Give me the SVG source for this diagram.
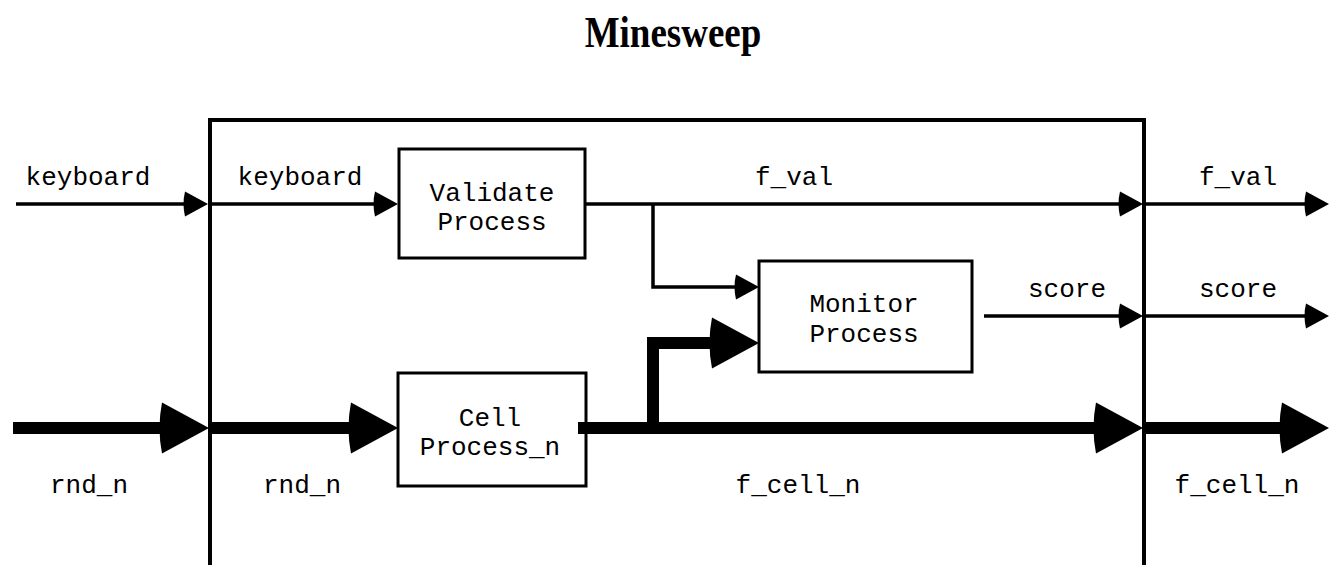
<svg xmlns="http://www.w3.org/2000/svg" width="1329" height="565" viewBox="0 0 1329 565">
  <style>
    .box { fill: #fff; stroke: #000; stroke-width: 3; }
    .frame { fill: none; stroke: #000; stroke-width: 4; }
    .thin { fill: none; stroke: #000; stroke-width: 3.5; }
    .thick { fill: none; stroke: #000; stroke-width: 12; stroke-linejoin: miter; }
    .lbl { font-family: "Liberation Mono", "DejaVu Sans Mono", monospace; font-size: 26px; fill: #000; text-anchor: middle; }
    .title { font-family: "Liberation Serif", "Times New Roman", serif; font-weight: bold; font-size: 37px; fill: #000; text-anchor: middle; }
  </style>
  <defs>
    <!-- arrowheads start at the line end and point forward; backs slightly rounded -->
    <marker id="arrowThin" markerUnits="userSpaceOnUse" markerWidth="23" markerHeight="25" refX="0" refY="12.5" orient="auto" overflow="visible">
      <path d="M0,0 L23,12.5 L0,25 Q-3,12.5 0,0 z" fill="#000"/>
    </marker>
    <marker id="arrowThick" markerUnits="userSpaceOnUse" markerWidth="47" markerHeight="51" refX="0" refY="25.5" orient="auto" overflow="visible">
      <path d="M0,0 L47,25.5 L0,51 Q-5,25.5 0,0 z" fill="#000"/>
    </marker>
  </defs>

  <rect width="1329" height="565" fill="#fff"/>

  <text class="title" transform="translate(673,47) scale(1,1.2)">Minesweep</text>

  <!-- system boundary, open at the bottom -->
  <g id="minesweep-system">
    <path class="frame" d="M210,565 V120 H1144 V565"/>
  </g>

  <g id="validate-process">
    <rect class="box" x="399" y="149" width="186" height="109"/>
    <text class="lbl" x="492" y="201">Validate</text>
    <text class="lbl" x="492" y="230">Process</text>
  </g>

  <g id="monitor-process">
    <rect class="box" x="759" y="261" width="213" height="111"/>
    <text class="lbl" x="864" y="312">Monitor</text>
    <text class="lbl" x="864" y="342">Process</text>
  </g>

  <g id="cell-process">
    <rect class="box" x="398" y="373" width="188" height="113"/>
    <text class="lbl" x="490" y="426">Cell</text>
    <text class="lbl" x="490" y="455">Process_n</text>
  </g>

  <g id="connectors">
    <!-- keyboard -->
    <line class="thin" x1="16" y1="204" x2="185" y2="204" marker-end="url(#arrowThin)"/>
    <line class="thin" x1="210" y1="204" x2="375" y2="204" marker-end="url(#arrowThin)"/>
    <!-- f_val -->
    <line class="thin" x1="585" y1="204" x2="1120" y2="204" marker-end="url(#arrowThin)"/>
    <line class="thin" x1="1144" y1="204" x2="1306" y2="204" marker-end="url(#arrowThin)"/>
    <polyline class="thin" points="653,204 653,287 736,287" marker-end="url(#arrowThin)"/>
    <!-- score -->
    <line class="thin" x1="984" y1="316" x2="1120" y2="316" marker-end="url(#arrowThin)"/>
    <line class="thin" x1="1144" y1="316" x2="1306" y2="316" marker-end="url(#arrowThin)"/>
    <!-- rnd_n -->
    <line class="thick" x1="13" y1="428" x2="162" y2="428" marker-end="url(#arrowThick)"/>
    <line class="thick" x1="210" y1="428" x2="351" y2="428" marker-end="url(#arrowThick)"/>
    <!-- f_cell_n -->
    <line class="thick" x1="578" y1="428" x2="1096" y2="428" marker-end="url(#arrowThick)"/>
    <line class="thick" x1="1144" y1="428" x2="1282" y2="428" marker-end="url(#arrowThick)"/>
    <polyline class="thick" points="653,428 653,343 712,343" marker-end="url(#arrowThick)"/>
  </g>

  <g id="labels">
    <text class="lbl" x="88" y="185">keyboard</text>
    <text class="lbl" x="300" y="185">keyboard</text>
    <text class="lbl" x="794" y="185">f_val</text>
    <text class="lbl" x="1238" y="185">f_val</text>
    <text class="lbl" x="1067" y="297">score</text>
    <text class="lbl" x="1238" y="297">score</text>
    <text class="lbl" x="89" y="493">rnd_n</text>
    <text class="lbl" x="302" y="493">rnd_n</text>
    <text class="lbl" x="798" y="493">f_cell_n</text>
    <text class="lbl" x="1237" y="493">f_cell_n</text>
  </g>
</svg>
